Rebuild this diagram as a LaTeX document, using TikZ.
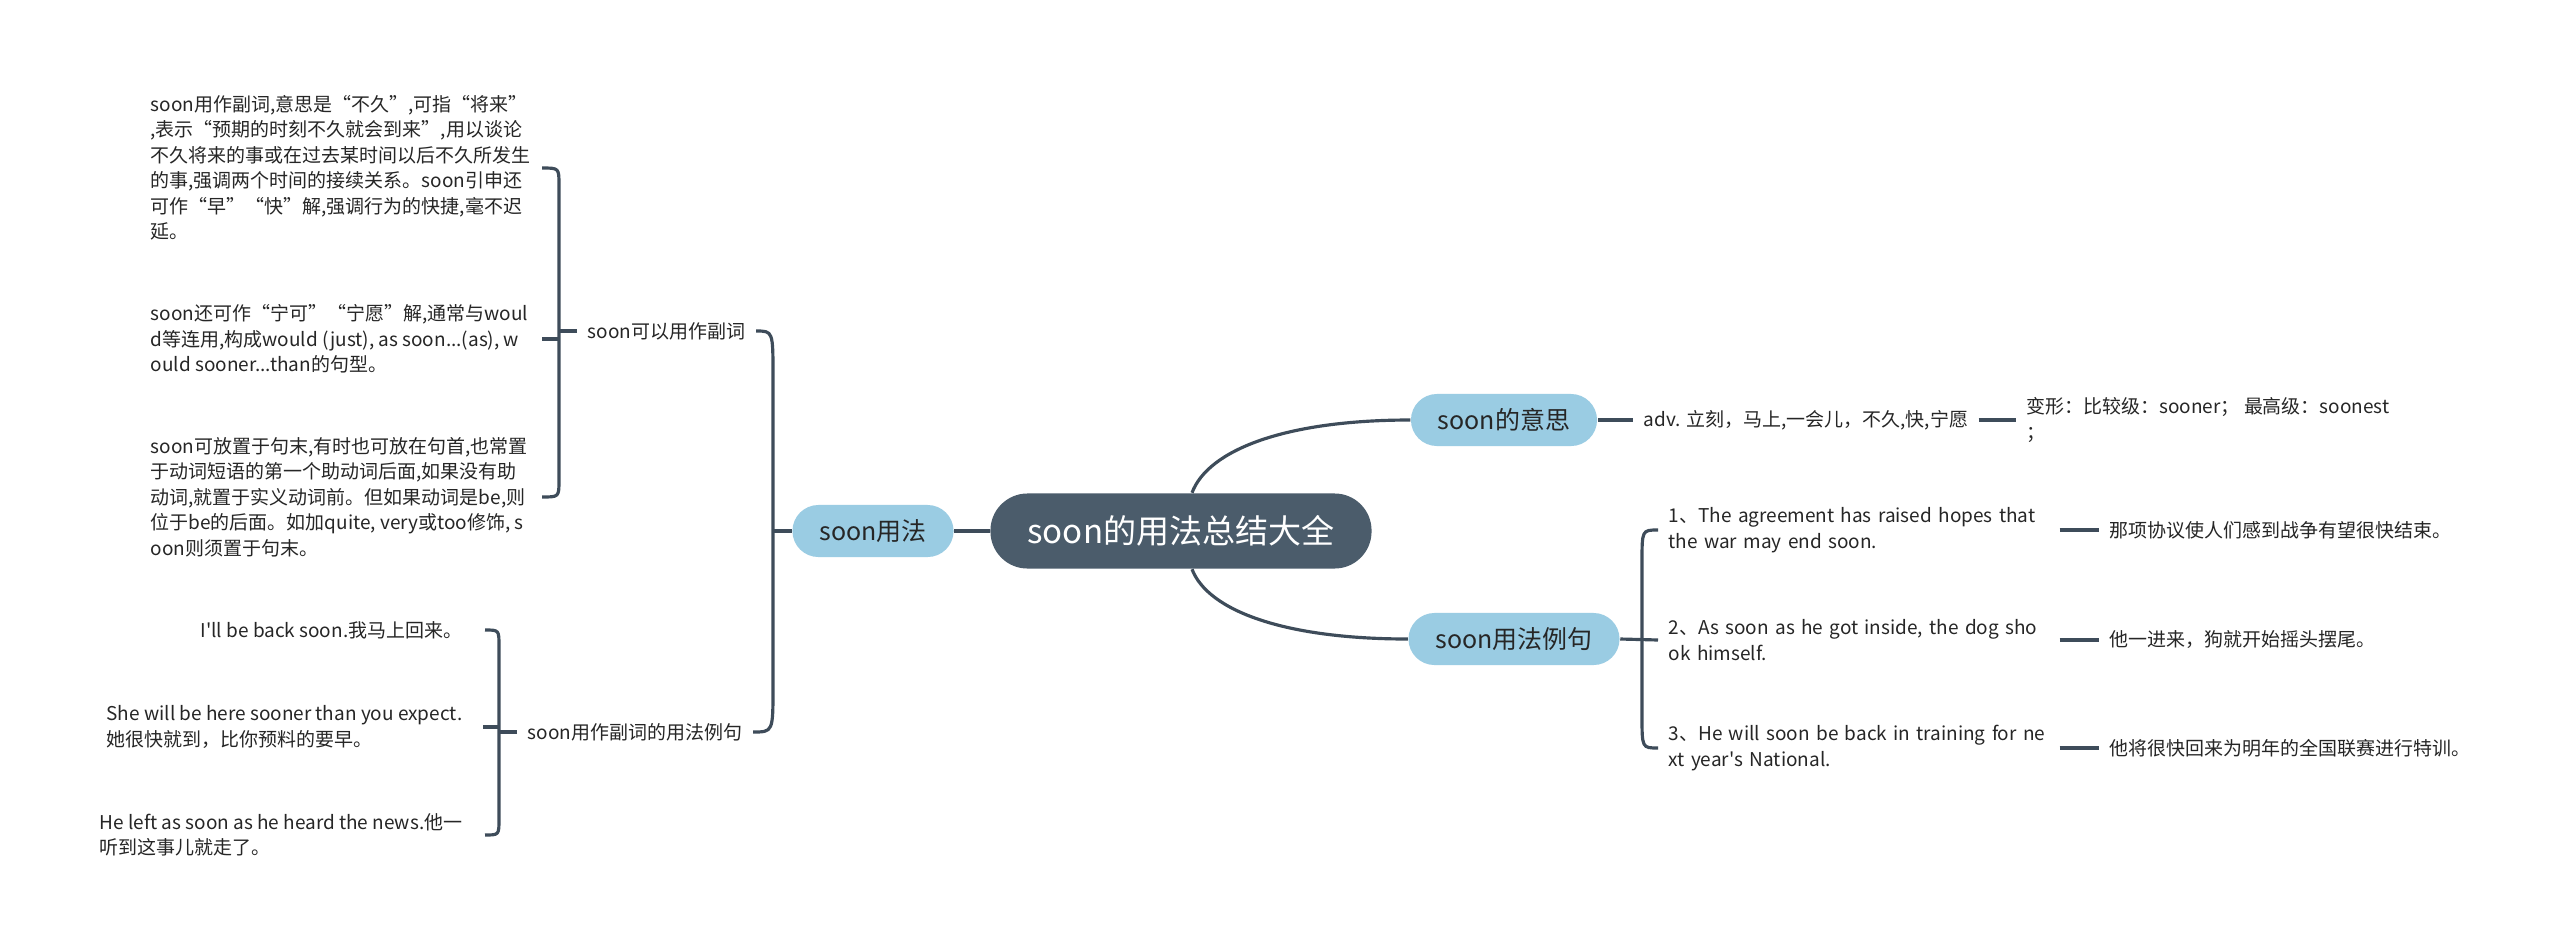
\documentclass[tikz,border=0pt]{standalone}
\usepackage{fontspec}
\setmainfont{Noto Sans CJK SC}
\usetikzlibrary{positioning,calc}
\definecolor{rootc}{HTML}{4B5C6B}
\definecolor{linec}{HTML}{3E4C5A}
\definecolor{subc}{HTML}{9ACCE3}
\definecolor{inkc}{HTML}{262626}

\begin{document}
\begin{tikzpicture}[x=0.01cm,y=-0.01cm,
  topic/.style={fill=rootc,text=white,rounded corners=0.37cm,minimum height=0.75cm,inner xsep=0.37cm,font=\fontsize{9.4}{11}\selectfont},
  branch/.style={fill=subc,text=inkc,rounded corners=0.26cm,minimum height=0.52cm,inner xsep=0.27cm,font=\fontsize{7.1}{8.5}\selectfont},
  leaf/.style={text=inkc,align=left,inner xsep=0.1cm,inner ysep=0.04cm,font=\fontsize{5.4}{7.25}\selectfont},
  link/.style={draw=linec,line width=0.9pt}]
\useasboundingbox (0,0) rectangle (2560,951);
\fill[white] (0,0) rectangle (2560,951);
% main topics
\node[topic] (main) at (1181,531) {soon的用法总结大全};
\node[branch] (mean) at (1504,420) {soon的意思};
\node[branch] (sample) at (1514,639) {soon用法例句};
\node[branch] (usage) at (873,531) {soon用法};
\draw[link] ([xshift=0.11cm]main.north) .. controls (1208,450) and (1285,420) .. (mean.west);
\draw[link] ([xshift=0.11cm]main.south) .. controls (1208,611) and (1285,639) .. (sample.west);
\draw[link] (main.west) -- (usage.east);
% meaning
\node[leaf,anchor=west] (gloss) at (1633,420) {adv. 立刻，马上,一会儿，不久,快,宁愿};
\node[leaf,right=0.37cm of gloss] (forms) {变形：比较级：sooner； 最高级：soonest\\；};
\draw[link] (mean) -- (gloss);
\draw[link] (gloss) -- (forms);
% example sentences
\coordinate (kS) at (1642,640);
\node[leaf,anchor=west,text width=3.8cm] (sen1) at (1658,530) {1、The agreement has raised hopes that\\the war may end soon.};
\node[leaf,anchor=west,text width=3.8cm] (sen2) at (1658,640) {2、As soon as he got inside, the dog sho\\ok himself.};
\node[leaf,anchor=west,text width=3.8cm] (sen3) at (1658,748) {3、He will soon be back in training for ne\\xt year\textquotesingle s National.};
\node[leaf,right=0.39cm of sen1] (tr1) {那项协议使人们感到战争有望很快结束。};
\node[leaf,right=0.39cm of sen2] (tr2) {他一进来，狗就开始摇头摆尾。};
\node[leaf,right=0.39cm of sen3] (tr3) {他将很快回来为明年的全国联赛进行特训。};
\draw[link] (sample.east) -- (sen2.west);
\draw[link] (sen1.west) .. controls (kS |- sen1) .. ($(kS |- sen1)+(0,32)$) -- ($(kS |- sen3)+(0,-32)$) .. controls (kS |- sen3) .. (sen3.west);
\foreach \i in {1,2,3} \draw[link] (sen\i) -- (tr\i);
% usage
\coordinate (kU) at (773,531);
\node[leaf,anchor=east] (adverb) at (756,331) {soon可以用作副词};
\node[leaf,anchor=east] (advsent) at (753,732) {soon用作副词的用法例句};
\draw[link] (usage.west) -- (kU);
\draw[link] (adverb.east) .. controls (kU |- adverb) .. ($(kU |- adverb)+(0,45)$) -- ($(kU |- advsent)+(0,-45)$) .. controls (kU |- advsent) .. (advsent.east);
% adverb notes
\coordinate (kA) at (559,331);
\node[leaf,anchor=west] (def1) at (140,168) {soon用作副词,意思是“不久”,可指“将来”\\,表示“预期的时刻不久就会到来”,用以谈论\\不久将来的事或在过去某时间以后不久所发生\\的事,强调两个时间的接续关系。soon引申还\\可作“早”“快”解,强调行为的快捷,毫不迟\\延。};
\node[leaf,anchor=west] (def2) at (140,339) {soon还可作“宁可”“宁愿”解,通常与woul\\d等连用,构成would (just), as soon...(as), w\\ould sooner...than的句型。};
\node[leaf,anchor=west] (def3) at (140,497) {soon可放置于句末,有时也可放在句首,也常置\\于动词短语的第一个助动词后面,如果没有助\\动词,就置于实义动词前。但如果动词是be,则\\位于be的后面。如加quite, very或too修饰, s\\oon则须置于句末。};
\draw[link] (adverb.west) -- (kA);
\draw[link] ($(kA |- def1)+(-17,0)$) .. controls (kA |- def1) .. ($(kA |- def1)+(0,17)$) -- ($(kA |- def3)+(0,-17)$) .. controls (kA |- def3) .. ($(kA |- def3)+(-17,0)$);
\draw[link] ($(kA |- def2)+(-17,0)$) -- (kA |- def2);
% adverb examples
\coordinate (kB) at (499,732);
\node[leaf,anchor=east] (ex1) at (473,630) {I\textquotesingle ll be back soon.我马上回来。};
\node[leaf,anchor=east] (ex2) at (473,727) {She will be here sooner than you expect.\\她很快就到，比你预料的要早。};
\node[leaf,anchor=east] (ex3) at (473,835) {He left as soon as he heard the news.他一\\听到这事儿就走了。};
\draw[link] (advsent.west) -- (kB);
\draw[link] ($(kB |- ex1)+(-14,0)$) .. controls (kB |- ex1) .. ($(kB |- ex1)+(0,16)$) -- ($(kB |- ex3)+(0,-16)$) .. controls (kB |- ex3) .. ($(kB |- ex3)+(-14,0)$);
\draw[link] ($(kB |- ex2)+(-16,0)$) -- (kB |- ex2);
\end{tikzpicture}
\end{document}
